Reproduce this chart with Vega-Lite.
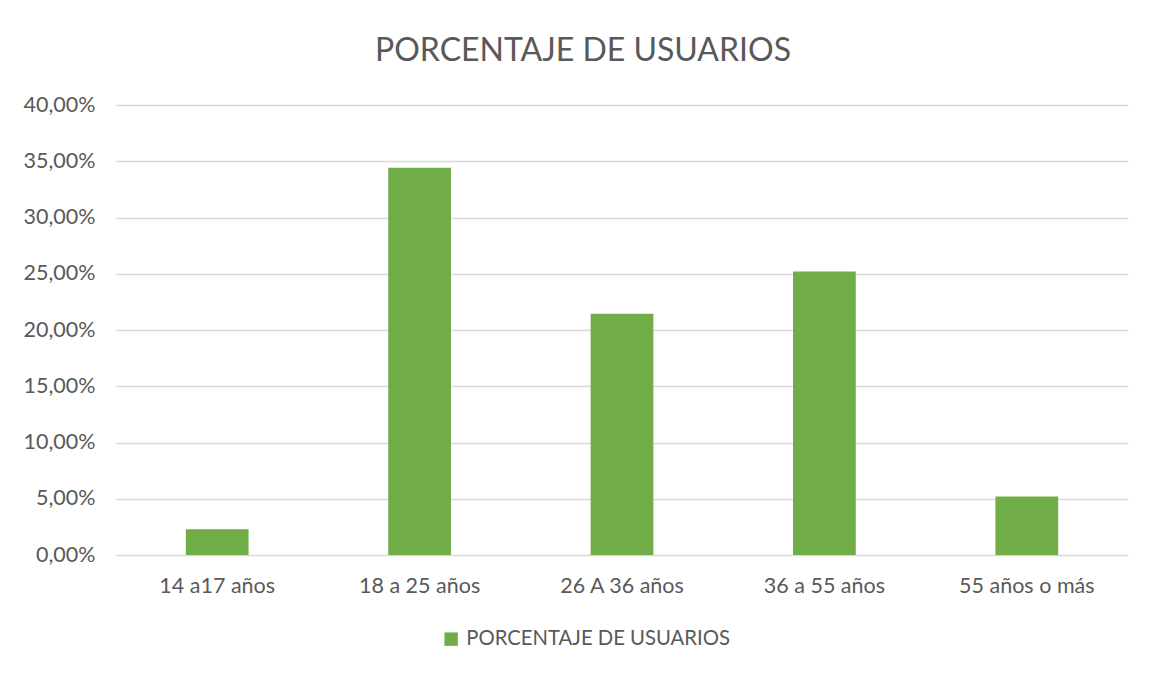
{
  "$schema": "https://vega.github.io/schema/vega-lite/v6.json",
  "width": 1012,
  "height": 450,
  "autosize": {"type": "none"},
  "padding": {"left": 116, "top": 105, "right": 23, "bottom": 120},
  "background": "white",
  "data": {
    "values": [
      {"grupo": "14 a17 años", "porcentaje": 0.0228, "serie": "PORCENTAJE DE USUARIOS"},
      {"grupo": "18 a 25 años", "porcentaje": 0.3443, "serie": "PORCENTAJE DE USUARIOS"},
      {"grupo": "26 A 36 años", "porcentaje": 0.2145, "serie": "PORCENTAJE DE USUARIOS"},
      {"grupo": "36 a 55 años", "porcentaje": 0.2519, "serie": "PORCENTAJE DE USUARIOS"},
      {"grupo": "55 años o más", "porcentaje": 0.0519, "serie": "PORCENTAJE DE USUARIOS"}
    ]
  },
  "title": {
    "text": "PORCENTAJE DE USUARIOS",
    "font": "Lato",
    "fontSize": 32,
    "fontWeight": "normal",
    "color": "#595959",
    "anchor": "middle",
    "dx": -39,
    "offset": 26
  },
  "mark": {"type": "bar", "color": "#70ad47"},
  "encoding": {
    "x": {
      "field": "grupo",
      "type": "nominal",
      "sort": null,
      "title": null,
      "scale": {"paddingInner": 0.69, "paddingOuter": 0.345},
      "axis": {
        "labelAngle": 0,
        "labelFont": "Lato",
        "labelFontSize": 21.5,
        "labelColor": "#595959",
        "labelPadding": 20,
        "domain": false,
        "ticks": false
      }
    },
    "y": {
      "field": "porcentaje",
      "type": "quantitative",
      "title": null,
      "scale": {"domain": [0, 0.4]},
      "axis": {
        "values": [0, 0.05, 0.1, 0.15, 0.2, 0.25, 0.3, 0.35, 0.4],
        "format": ".2%",
        "labelExpr": "replace(datum.label, '.', ',')",
        "labelFont": "Lato",
        "labelFontSize": 21.5,
        "labelColor": "#595959",
        "labelPadding": 21,
        "domain": false,
        "ticks": false,
        "gridColor": "#d9d9d9",
        "gridWidth": 1.3
      }
    },
    "color": {
      "field": "serie",
      "type": "nominal",
      "scale": {"range": ["#70ad47"]},
      "legend": {
        "title": null,
        "orient": "none",
        "legendX": 325,
        "legendY": 524,
        "symbolType": "square",
        "symbolSize": 180,
        "symbolStrokeWidth": 0,
        "labelFont": "Lato",
        "labelFontSize": 20.3,
        "labelLimit": 0,
        "labelColor": "#595959",
        "labelOffset": 5
      }
    }
  },
  "config": {"view": {"stroke": null}}
}
